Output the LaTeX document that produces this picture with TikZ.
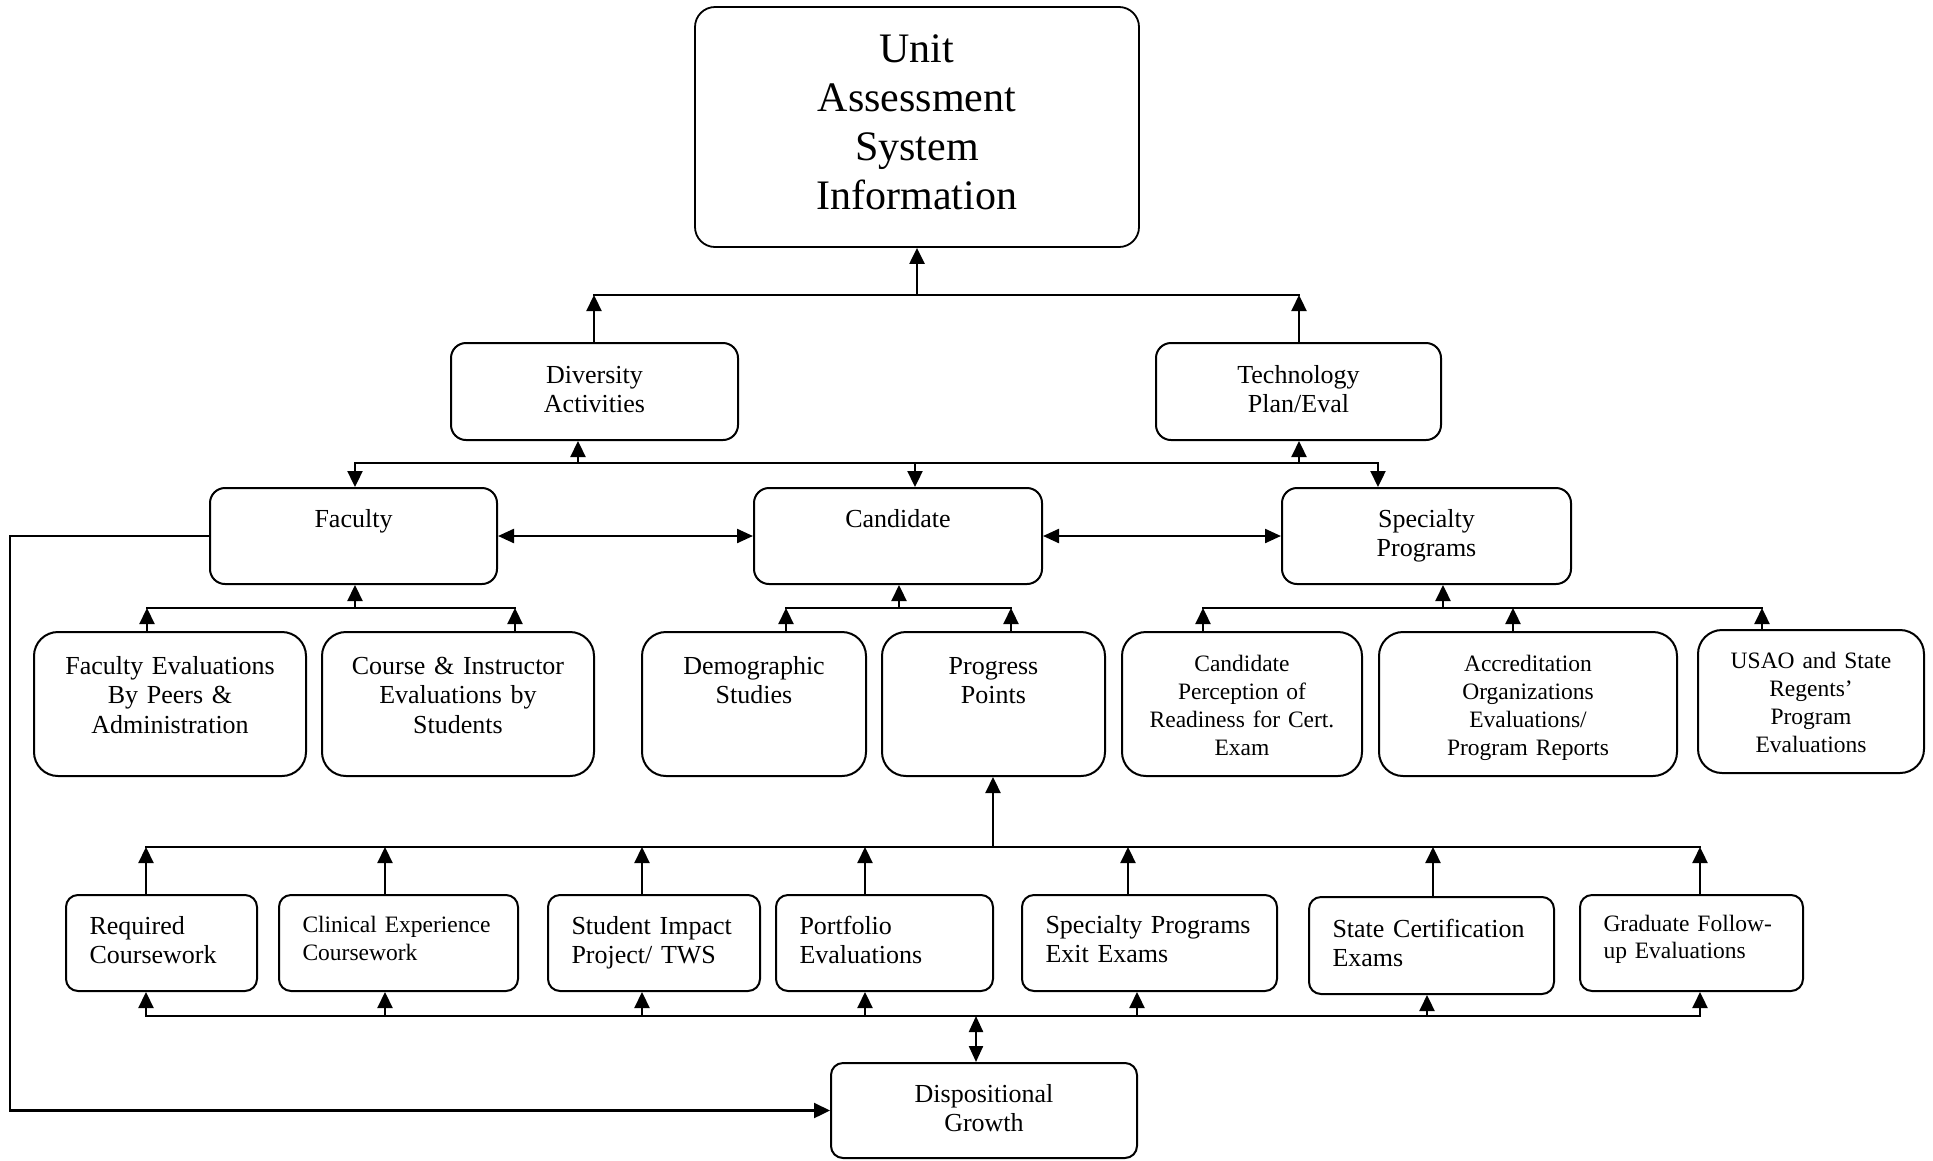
\documentclass[tikz,border=0pt]{standalone}
\usepackage{fontspec}
\setmainfont{Liberation Serif}
\usetikzlibrary{arrows.meta}
\tikzset{
	box/.style={draw, line width=2pt, inner xsep=0pt, inner ysep=0pt, align=center, font=\fontsize{26}{29.5}\selectfont},
	lbox/.style={box, inner xsep=23.5pt, align=left, rounded corners=12pt},
	smalltext/.style={font=\fontsize{23.5}{28}\selectfont},
	bus/.style={line width=2.5pt, line cap=rect},
	arr/.style={line width=2.3pt, -{Triangle[length=16pt,width=15pt]}},
	dbl/.style={line width=2.3pt, {Triangle[length=16pt,width=14pt]}-{Triangle[length=16pt,width=14pt]}},
}

\begin{document}
\begin{tikzpicture}[x=1pt,y=1pt]
			%%%%% START %%%%%
			\useasboundingbox (0,0) rectangle (1933,-1160);
			
			% top and middle levels
			\node[box, rounded corners=20pt, line width=1.8pt, font=\fontsize{42}{49}\selectfont, text width=444pt, text height=55pt, text depth=185pt] (uasi) at (917,-127) {Unit\\Assessment\\System\\Information};
			\node[box, rounded corners=15pt, text width=287pt, text height=40pt, text depth=57pt] (div) at (594.5,-391.5) {Diversity\\Activities};
			\node[box, rounded corners=15pt, text width=285pt, text height=40pt, text depth=57pt] (tech) at (1298.5,-391.5) {Technology\\Plan/Eval};
			\node[box, rounded corners=15pt, text width=287pt, text height=39pt, text depth=57pt] (fac) at (353.5,-536) {Faculty};
			\node[box, rounded corners=15pt, text width=288pt, text height=39pt, text depth=57pt] (cand) at (898,-536) {Candidate};
			\node[box, rounded corners=15pt, text width=289pt, text height=39pt, text depth=57pt] (spec) at (1426.5,-536) {Specialty\\Programs};
			
			% sources under faculty, candidate, specialty programs
			\node[box, rounded corners=24pt, text width=272pt, text height=42pt, text depth=102pt] (facev) at (170,-704) {Faculty Evaluations\\By Peers \&\\Administration};
			\node[box, rounded corners=24pt, text width=272pt, text height=42pt, text depth=102pt] (course) at (458,-704) {Course \& Instructor\\Evaluations by\\Students};
			\node[box, rounded corners=24pt, text width=224pt, text height=42pt, text depth=102pt] (demo) at (754,-704) {Demographic\\Studies};
			\node[box, rounded corners=24pt, text width=223pt, text height=42pt, text depth=102pt] (prog) at (993.5,-704) {Progress\\Points};
			\node[box, smalltext, rounded corners=24pt, text width=240pt, text height=39pt, text depth=105pt] (perc) at (1242,-704) {Candidate\\Perception of\\Readiness for Cert.\\Exam};
			\node[box, smalltext, rounded corners=24pt, text width=298pt, text height=39pt, text depth=105pt] (accr) at (1528,-704) {Accreditation\\Organizations\\Evaluations/\\Program Reports};
			\node[box, smalltext, rounded corners=24pt, text width=226pt, text height=38pt, text depth=105pt] (usao) at (1811,-701.5) {USAO and State\\Regents’\\Program\\Evaluations};
			
			% progress points row
			\node[lbox, text width=144pt, text height=39pt, text depth=57pt] (req) at (161.5,-943) {Required\\Coursework};
			\node[lbox, smalltext, text width=192pt, text height=37pt, text depth=59pt] (clin) at (398.5,-943) {Clinical Experience\\Coursework};
			\node[lbox, text width=165pt, text height=39pt, text depth=57pt] (sip) at (654,-943) {Student Impact\\Project/ TWS};
			\node[lbox, text width=170pt, text height=39pt, text depth=57pt] (port) at (884.5,-943) {Portfolio\\Evaluations};
			\node[lbox, text width=208pt, text height=38pt, text depth=58pt] (exit) at (1149.5,-943) {Specialty Programs\\Exit Exams};
			\node[lbox, text width=198pt, text height=40pt, text depth=57pt] (cert) at (1431.5,-945.5) {State Certification\\Exams};
			\node[lbox, font=\fontsize{23.5}{27}\selectfont, text width=176pt, text height=36pt, text depth=60pt] (grad) at (1691.5,-943) {Graduate Follow-\\up Evaluations};
			\node[box, rounded corners=12pt, text width=306pt, text height=39pt, text depth=56pt] (disp) at (984,-1110.5) {Dispositional\\Growth};
			
			% top bus
			\coordinate (ta) at (594,-295);
			\coordinate (tb) at (917,-295);
			\coordinate (tc) at (1299,-295);
			\draw[bus] (ta) -- (tc);
			\draw[arr] (ta |- div.north) -- (ta);
			\draw[arr] (tc |- tech.north) -- (tc);
			\draw[arr] (tb) -- (tb |- uasi.south);
			
			% second bus
			\coordinate (ma) at (355,-463);
			\coordinate (mb) at (578,-463);
			\coordinate (mc) at (915,-463);
			\coordinate (md) at (1299,-463);
			\coordinate (me) at (1378,-463);
			\draw[bus] (ma) -- (me);
			\draw[arr] (mb) -- (mb |- div.south);
			\draw[arr] (md) -- (md |- tech.south);
			\draw[arr] (ma) -- (ma |- fac.north);
			\draw[arr] (mc) -- (mc |- cand.north);
			\draw[arr] (me) -- (me |- spec.north);
			
			\draw[dbl] (fac.east) -- (cand.west);
			\draw[dbl] (cand.east) -- (spec.west);
			
			% faculty sources
			\coordinate (fa) at (147,-608);
			\coordinate (fb) at (355,-608);
			\coordinate (fc) at (515,-608);
			\draw[bus] (fa) -- (fc);
			\draw[arr] (fa |- facev.north) -- (fa);
			\draw[arr] (fc |- course.north) -- (fc);
			\draw[arr] (fb) -- (fb |- fac.south);
			
			% candidate sources
			\coordinate (ca) at (786,-608);
			\coordinate (cb) at (899,-608);
			\coordinate (cc) at (1011,-608);
			\draw[bus] (ca) -- (cc);
			\draw[arr] (ca |- demo.north) -- (ca);
			\draw[arr] (cc |- prog.north) -- (cc);
			\draw[arr] (cb) -- (cb |- cand.south);
			
			% specialty program sources
			\coordinate (sa) at (1203,-608);
			\coordinate (sb) at (1443,-608);
			\coordinate (sc) at (1513,-608);
			\coordinate (sd) at (1762,-608);
			\draw[bus] (sa) -- (sd);
			\draw[arr] (sa |- perc.north) -- (sa);
			\draw[arr] (sc |- accr.north) -- (sc);
			\draw[arr] (sd |- usao.north) -- (sd);
			\draw[arr] (sb) -- (sb |- spec.south);
			
			% progress points bus
			\coordinate (pa) at (993,-847);
			\coordinate (ua) at (146,-847);
			\coordinate (ub) at (385,-847);
			\coordinate (uc) at (642,-847);
			\coordinate (ud) at (865,-847);
			\coordinate (ue) at (1128,-847);
			\coordinate (uf) at (1433,-847);
			\coordinate (ug) at (1700,-847);
			\draw[bus] (ua) -- (ug);
			\draw[arr] (pa) -- (pa |- prog.south);
			\draw[arr] (ua |- req.north) -- (ua);
			\draw[arr] (ub |- clin.north) -- (ub);
			\draw[arr] (uc |- sip.north) -- (uc);
			\draw[arr] (ud |- port.north) -- (ud);
			\draw[arr] (ue |- exit.north) -- (ue);
			\draw[arr] (uf |- cert.north) -- (uf);
			\draw[arr] (ug |- grad.north) -- (ug);
			
			% dispositional bus
			\coordinate (la) at (146,-1016);
			\coordinate (lb) at (385,-1016);
			\coordinate (lc) at (642,-1016);
			\coordinate (ld) at (865,-1016);
			\coordinate (le) at (1137,-1016);
			\coordinate (lf) at (1427,-1016);
			\coordinate (lg) at (1700,-1016);
			\coordinate (lh) at (976,-1016);
			\draw[bus] (la) -- (lg);
			\draw[arr] (la) -- (la |- req.south);
			\draw[arr] (lb) -- (lb |- clin.south);
			\draw[arr] (lc) -- (lc |- sip.south);
			\draw[arr] (ld) -- (ld |- port.south);
			\draw[arr] (le) -- (le |- exit.south);
			\draw[arr] (lf) -- (lf |- cert.south);
			\draw[arr] (lg) -- (lg |- grad.south);
			\draw[dbl] (lh) -- (lh |- disp.north);
			
			% faculty to dispositional growth
			\coordinate (lft) at (10,-536);
			\draw[arr] (fac.west) -- (lft) |- (disp.west);
			
			%%%%% END %%%%%
\end{tikzpicture}
\end{document}
